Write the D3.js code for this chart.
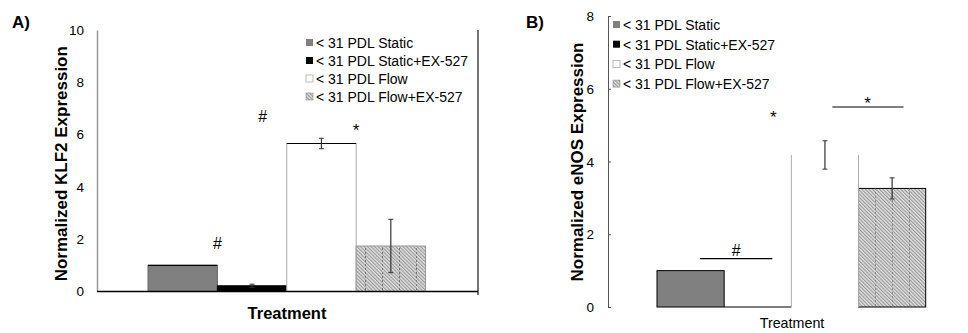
<!DOCTYPE html>
<html>
<head>
<meta charset="utf-8">
<title>KLF2 / eNOS</title>
<script src="https://cdnjs.cloudflare.com/ajax/libs/d3/7.8.5/d3.min.js"></script>
<style>
  body { margin: 0; background: #fff; }
  svg { font-family: "Liberation Sans", Arial, sans-serif; }
</style>
</head>
<body>
<div id="chart"></div>
<script>
  // series shown in both panels
  var series = ["< 31 PDL Static", "< 31 PDL Static+EX-527", "< 31 PDL Flow", "< 31 PDL Flow+EX-527"];

  // panel A - KLF2
  var klf2Values = [1.0, 0.22, 5.66, 1.74];
  var klf2Errors = [0, 0.06, 0.2, 1.02];
  var klf2Ticks = [0, 2, 4, 6, 8, 10];

  // panel B - eNOS
  var enosValues = [1.0, 0.0, 4.18, 3.26];
  var enosErrors = [0, 0, 0.39, 0.29];
  var enosTicks = [0, 2, 4, 6, 8];

  var width = 968, height = 333;

  var svg = d3.select("#chart").append("svg")
    .attr("width", width).attr("height", height);

  // hatch patterns for the Flow+EX-527 bar
  var defs = svg.append("defs");
  var diag = defs.append("pattern")
    .attr("id", "diag").attr("patternUnits", "userSpaceOnUse")
    .attr("width", 2.5).attr("height", 2.5)
    .attr("patternTransform", "rotate(-45)");
  diag.append("rect").attr("width", 2.5).attr("height", 2.5).attr("fill", "#dedede");
  diag.append("rect").attr("width", 1.1).attr("height", 2.5).attr("fill", "#9a9a9a");

  var vdots = defs.append("pattern")
    .attr("id", "vdots").attr("patternUnits", "userSpaceOnUse")
    .attr("width", 17).attr("height", 4);
  vdots.append("rect").attr("x", 8).attr("width", 1).attr("height", 2).attr("fill", "#777");

  function fillFor(i) {
    return ["#808080", "#000", "#fff", "url(#diag)"][i];
  }

  function legend(g, x0, y0, step) {
    series.forEach(function(s, i) {
      var gy = y0 + i * step;
      if (i == 2) {
        g.append("rect").attr("x", x0).attr("y", gy - 4).attr("width", 7).attr("height", 7)
          .attr("fill", "#fff").attr("stroke", "#aaa").attr("stroke-width", 0.8);
      } else {
        g.append("rect").attr("x", x0).attr("y", gy - 4).attr("width", 7).attr("height", 7)
          .attr("fill", fillFor(i)).attr("stroke", i == 3 ? "#888" : "none").attr("stroke-width", 0.6);
      }
      g.append("text").attr("x", x0 + 10).attr("y", gy + 5)
        .attr("font-size", "14px").attr("fill", "#000").text(s);
    });
  }

  function errBars(g, x, y, vals, errs, color) {
    vals.forEach(function(v, i) {
      if (!errs[i]) return;
      var cx = x(series[i]) + x.bandwidth() / 2;
      var top = y(v + errs[i]), bot = y(v - errs[i]);
      g.append("line").attr("x1", cx).attr("x2", cx).attr("y1", top).attr("y2", bot)
        .attr("stroke", color).attr("stroke-width", 1.2);
      [top, bot].forEach(function(yy) {
        g.append("line").attr("x1", cx - 2.5).attr("x2", cx + 2.5).attr("y1", yy).attr("y2", yy)
          .attr("stroke", color).attr("stroke-width", 1);
      });
    });
  }

  // ---------------- Panel A ----------------
  var gA = svg.append("g");
  var yA = d3.scaleLinear().domain([0, 10]).range([291.5, 30]);
  var xA = d3.scaleBand().domain(series).range([148, 425.5]);
  var axLeftA = 97, axRightA = 478;

  gA.append("text").attr("x", 12).attr("y", 28).attr("font-size", "17px")
    .attr("font-weight", "bold").text("A)");

  var yAxisA = gA.append("g").attr("transform", "translate(" + axLeftA + ",0)")
    .call(d3.axisLeft(yA).tickValues(klf2Ticks).tickSize(0).tickPadding(13));
  yAxisA.select(".domain").attr("stroke", "#999").attr("stroke-width", 1.5);
  yAxisA.selectAll("text").attr("font-size", "13.5px").attr("fill", "#000")
    .attr("font-family", "Liberation Sans, Arial, sans-serif");

  // bars
  gA.selectAll("rect.bar").data(klf2Values).enter().append("rect")
    .attr("class", "bar")
    .attr("x", function(d, i) { return xA(series[i]); })
    .attr("y", function(d) { return yA(d); })
    .attr("width", xA.bandwidth())
    .attr("height", function(d) { return yA(0) - yA(d); })
    .attr("fill", function(d, i) { return fillFor(i); })
    .attr("stroke", function(d, i) { return ["#666", "#000", "#aaa", "#999"][i]; })
    .attr("stroke-width", 1);
  gA.append("rect").attr("x", xA(series[3])).attr("y", yA(klf2Values[3]))
    .attr("width", xA.bandwidth()).attr("height", yA(0) - yA(klf2Values[3]))
    .attr("fill", "url(#vdots)");
  // top edges black for first and third
  [0, 2].forEach(function(i) {
    gA.append("line").attr("x1", xA(series[i])).attr("x2", xA(series[i]) + xA.bandwidth())
      .attr("y1", yA(klf2Values[i])).attr("y2", yA(klf2Values[i]))
      .attr("stroke", "#000").attr("stroke-width", 1.2);
  });
  errBars(gA, xA, yA, klf2Values, klf2Errors, "#333");

  // x axis and right border
  gA.append("line").attr("x1", axLeftA).attr("x2", axRightA).attr("y1", yA(0)).attr("y2", yA(0))
    .attr("stroke", "#000").attr("stroke-width", 1.3);
  gA.append("line").attr("x1", axRightA).attr("x2", axRightA).attr("y1", 30).attr("y2", 295)
    .attr("stroke", "#000").attr("stroke-width", 1.1);

  // significance marks
  gA.append("text").attr("x", xA(series[1])).attr("y", yA(1.62)).attr("text-anchor", "middle")
    .attr("font-size", "16px").text("#");
  gA.append("text").attr("x", xA(series[2]) - 24).attr("y", yA(6.5)).attr("text-anchor", "middle")
    .attr("font-size", "16px").text("#");
  gA.append("text").attr("x", xA(series[3])).attr("y", yA(5.95)).attr("text-anchor", "middle")
    .attr("font-size", "17px").text("*");

  gA.append("text").attr("x", 287).attr("y", 319).attr("text-anchor", "middle")
    .attr("font-size", "16.5px").attr("font-weight", "bold").text("Treatment");
  gA.append("text").attr("transform", "translate(61," + ((yA(0) + yA(10)) / 2 + 3) + ") rotate(-90)")
    .attr("text-anchor", "middle").attr("dy", "0.35em")
    .attr("font-size", "17px").attr("font-weight", "bold").text("Normalized KLF2 Expression");

  legend(gA, 306, 43, 18);

  // ---------------- Panel B ----------------
  var gB = svg.append("g");
  var yB = d3.scaleLinear().domain([0, 8]).range([307, 16]);
  var xB = d3.scaleBand().domain(series).range([657, 925.7]);
  var axLeftB = 608;

  gB.append("text").attr("x", 526).attr("y", 28).attr("font-size", "17px")
    .attr("font-weight", "bold").text("B)");

  var yAxisB = gB.append("g").attr("transform", "translate(" + axLeftB + ",0)")
    .call(d3.axisRight(yB).tickValues(enosTicks).tickSize(3).tickFormat(""));
  yAxisB.select(".domain").attr("stroke", "#555").attr("stroke-width", 1);
  yAxisB.selectAll(".tick line").attr("stroke", "#555");
  gB.selectAll("text.ytick").data(enosTicks).enter().append("text")
    .attr("class", "ytick")
    .attr("x", 594).attr("y", function(d) { return yB(d) + 5; })
    .attr("text-anchor", "end").attr("font-size", "13.5px").text(function(d) { return d; });

  // bar 1 (static) and bar 4 (flow+EX-527)
  [0, 3].forEach(function(i) {
    gB.append("rect").attr("x", xB(series[i])).attr("y", yB(enosValues[i]))
      .attr("width", xB.bandwidth()).attr("height", yB(0) - yB(enosValues[i]))
      .attr("fill", fillFor(i)).attr("stroke", "#000").attr("stroke-width", 1);
  });
  gB.append("rect").attr("x", xB(series[3])).attr("y", yB(enosValues[3]))
    .attr("width", xB.bandwidth()).attr("height", yB(0) - yB(enosValues[3]))
    .attr("fill", "url(#vdots)").attr("opacity", 0.7);
  // bar 2 sits at zero
  gB.append("line").attr("x1", xB(series[1])).attr("x2", xB(series[1]) + xB.bandwidth())
    .attr("y1", yB(enosValues[1])).attr("y2", yB(enosValues[1]))
    .attr("stroke", "#000").attr("stroke-width", 1.2);
  // bar 3 white, only its sides show
  [xB(series[2]), xB(series[2]) + xB.bandwidth()].forEach(function(xx) {
    gB.append("line").attr("x1", xx).attr("x2", xx)
      .attr("y1", yB(enosValues[2])).attr("y2", yB(0))
      .attr("stroke", "#aaa").attr("stroke-width", 1);
  });
  errBars(gB, xB, yB, enosValues, enosErrors, "#333");

  // significance marks
  var hashY = yB(1.33);
  gB.append("line").attr("x1", xB(series[0]) + 43).attr("x2", xB(series[2]) - 19)
    .attr("y1", hashY).attr("y2", hashY).attr("stroke", "#000").attr("stroke-width", 1.1);
  gB.append("text").attr("x", xB(series[1]) + 12).attr("y", hashY - 2.5).attr("text-anchor", "middle")
    .attr("font-size", "16px").text("#");
  gB.append("text").attr("x", xB(series[2]) - 18).attr("y", yB(5.05)).attr("text-anchor", "middle")
    .attr("font-size", "17px").text("*");
  var starY = yB(5.5);
  gB.append("line").attr("x1", xB(series[2]) + 41).attr("x2", xB(series[3]) + 45)
    .attr("y1", starY).attr("y2", starY).attr("stroke", "#000").attr("stroke-width", 1.1);
  gB.append("text").attr("x", xB(series[3]) + 9).attr("y", starY + 2.5).attr("text-anchor", "middle")
    .attr("font-size", "17px").text("*");

  gB.append("text").attr("x", 792).attr("y", 328).attr("text-anchor", "middle")
    .attr("font-size", "14.3px").text("Treatment");
  gB.append("text").attr("transform", "translate(577,162) rotate(-90)")
    .attr("text-anchor", "middle").attr("dy", "0.35em")
    .attr("font-size", "17px").attr("font-weight", "bold").text("Normalized eNOS Expression");

  legend(gB, 613, 25, 19.7);
</script>
</body>
</html>
